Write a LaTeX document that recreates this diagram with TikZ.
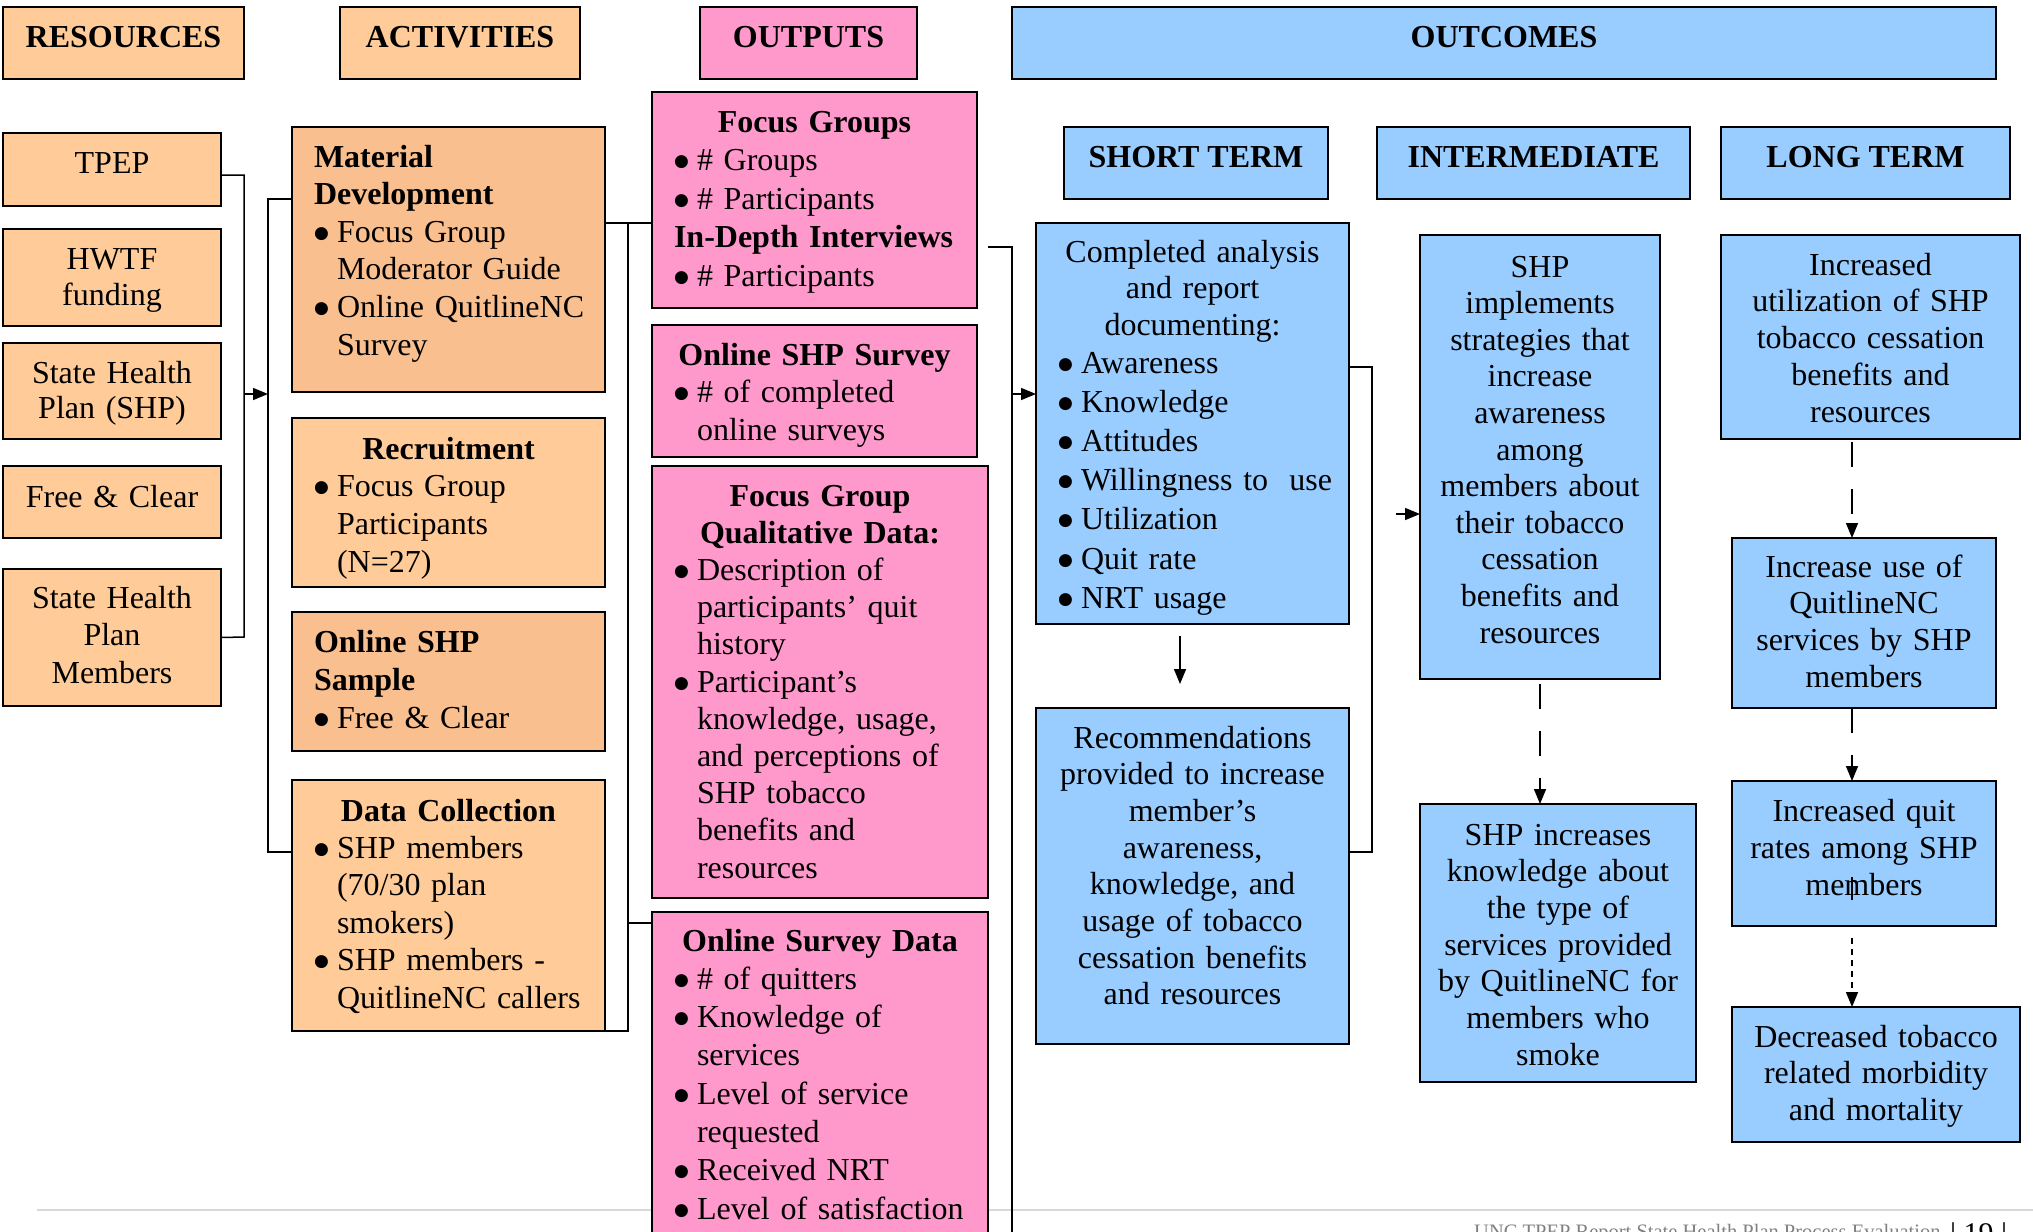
\documentclass[tikz,border=0pt]{standalone}
\usepackage{fontspec}
\setmainfont{Liberation Serif}
\newfontfamily\symfont{DejaVu Sans}
\usetikzlibrary{arrows.meta,calc}
\definecolor{lorange}{HTML}{FFCC99}
\definecolor{dorange}{HTML}{FABF8F}
\definecolor{pinkc}{HTML}{FF99CC}
\definecolor{bluec}{HTML}{99CCFF}
\definecolor{footgray}{HTML}{D9D9D9}
\definecolor{foottext}{HTML}{808080}
\newcommand\FS{\rule{0pt}{24pt}}
\newcommand\BUL{\raisebox{4pt}{\symfont\fontsize{17}{17}\selectfont ●}}
\newcommand\BL[1]{\makebox[23pt][l]{\BUL}\mbox{#1}}
\newcommand\CL[1]{\hspace*{23pt}\mbox{#1}}
\newcommand\CT[1]{\makebox[\hsize][c]{#1}}
\newcommand\fs[1]{\fontsize{32}{#1}\selectfont\parindent=0pt\parskip=0pt}
\tikzset{
  box/.style={draw=black, line width=1.6pt, anchor=north west, inner sep=0pt, outer sep=0pt},
  txt/.style={inner sep=0pt, outer sep=0pt, anchor=north west, align=left},
  ctxt/.style={inner sep=0pt, outer sep=0pt, anchor=north, align=center},
  hdr/.style={inner sep=0pt, outer sep=0pt, anchor=north, font=\fs{38}\bfseries},
  conn/.style={line width=1.5pt, draw=black},
  arr/.style={conn, -{Triangle[length=15pt,width=12pt]}},
  longdash/.style={dash pattern=on 25pt off 22pt},
  shortdash/.style={dash pattern=on 6pt off 5pt},
}
\begin{document}
\begin{tikzpicture}[x=1pt,y=-1pt]
\useasboundingbox (0,0) rectangle (2033,1231);
\clip (0,0) rectangle (2033,1231);
% footer rule
\draw[footgray, line width=2.5pt] (37,1210) -- (2033,1210);

% ---------- connector points ----------
\coordinate (r1) at (244,175);
\coordinate (r2) at (244,637);
\coordinate (rA) at (244,394);
\coordinate (b2t) at (268,199);
\coordinate (b2a) at (268,394);
\coordinate (b2b) at (268,852);
\coordinate (b3t) at (628,223);
\coordinate (b3m) at (628,923);
\coordinate (b3b) at (628,1031);
\coordinate (b4t) at (1012,247);
\coordinate (b4a) at (1012,394);
\coordinate (b4b) at (1012,1245);
\coordinate (b5t) at (1372,367);
\coordinate (b5b) at (1372,852);
\coordinate (b5a) at (1396,514);
\coordinate (q1) at (1852,877);
\coordinate (q2) at (1852,900);

% ---------- headers ----------
\node[box, fill=lorange, minimum width=241pt, minimum height=72pt] (hres) at (3,7) {};
\node[box, fill=lorange, minimum width=240pt, minimum height=72pt] (hact) at (340,7) {};
\node[box, fill=pinkc, minimum width=217pt, minimum height=72pt] (hout) at (700,7) {};
\node[box, fill=bluec, minimum width=984pt, minimum height=72pt] (hoc) at (1012,7) {};
\node[box, fill=bluec, minimum width=264pt, minimum height=72pt] (hst) at (1064,127) {};
\node[box, fill=bluec, minimum width=313pt, minimum height=72pt] (hint) at (1377,127) {};
\node[box, fill=bluec, minimum width=289pt, minimum height=72pt] (hlt) at (1721,127) {};
\node[hdr] (hres-t) at (123.5,24) {\FS RESOURCES};
\node[hdr] (hact-t) at (460,24) {\FS ACTIVITIES};
\node[hdr] (hout-t) at (808.5,24) {\FS OUTPUTS};
\node[hdr] (hoc-t) at (1504,24) {\FS OUTCOMES};
\node[hdr] (hst-t) at (1196,143) {\FS SHORT TERM};
\node[hdr] (hint-t) at (1533.5,143) {\FS INTERMEDIATE};
\node[hdr] (hlt-t) at (1865.5,143) {\FS LONG TERM};

% ---------- resources ----------
\node[box, fill=lorange, minimum width=218pt, minimum height=73pt] (tpep) at (3,133) {};
\node[box, fill=lorange, minimum width=218pt, minimum height=97pt] (hwtf) at (3,229) {};
\node[box, fill=lorange, minimum width=218pt, minimum height=96pt] (shp) at (3,343) {};
\node[box, fill=lorange, minimum width=218pt, minimum height=72pt] (fc) at (3,466) {};
\node[box, fill=lorange, minimum width=218pt, minimum height=137pt] (shpm) at (3,569) {};

\draw[conn] ([yshift=-5.5pt]tpep.east) -- (r1) -- (r2) -- (shpm.east);
\draw[arr] (rA) -- (b2a);

% ---------- activities ----------
\node[box, fill=dorange, minimum width=313pt, minimum height=265pt] (matdev) at (292,127) {};
\node[box, fill=lorange, minimum width=313pt, minimum height=169pt] (recr) at (292,418) {};
\node[box, fill=dorange, minimum width=313pt, minimum height=139pt] (osample) at (292,612) {};
\node[box, fill=lorange, minimum width=313pt, minimum height=251pt] (datacoll) at (292,780) {};

\draw[conn] ($(matdev.north west)+(0,72)$) -- (b2t) -- (b2b) -- ($(datacoll.north west)+(0,72)$);

% ---------- outputs ----------
\node[box, fill=pinkc, minimum width=325pt, minimum height=216pt] (fg) at (652,92) {};
\node[box, fill=pinkc, minimum width=325pt, minimum height=132pt] (oss) at (652,325) {};
\node[box, fill=pinkc, minimum width=336pt, minimum height=432pt] (fgq) at (652,466) {};
\node[box, fill=pinkc, minimum width=336pt, minimum height=360pt] (osd) at (652,912) {};

\draw[conn] ($(matdev.north east)+(0,96)$) -- ($(fg.north west)+(0,131)$);
\draw[conn] (datacoll.south east) -- (b3b) -- (b3t);
\draw[conn] (b3m) -- ($(osd.north west)+(0,11)$);
\draw[conn] ($(fg.north east)+(11,155)$) -- (b4t) -- (b4b);

% ---------- outcomes ----------
\node[box, fill=bluec, minimum width=313pt, minimum height=401pt] (ca) at (1036,223) {};
\node[box, fill=bluec, minimum width=313pt, minimum height=336pt] (rec) at (1036,708) {};
\node[box, fill=bluec, minimum width=240pt, minimum height=444pt] (impl) at (1420,235) {};
\node[box, fill=bluec, minimum width=276pt, minimum height=278pt] (incr) at (1420,804) {};
\node[box, fill=bluec, minimum width=299pt, minimum height=204pt] (util) at (1721,235) {};
\node[box, fill=bluec, minimum width=264pt, minimum height=170pt] (use) at (1732,538) {};
\node[box, fill=bluec, minimum width=264pt, minimum height=145pt] (quit) at (1732,781) {};
\node[box, fill=bluec, minimum width=288pt, minimum height=135pt] (dec) at (1732,1007) {};

\draw[arr] (b4a) -- ($(ca.north west)+(0,171)$);
\draw[conn] ($(ca.north east)+(0,144)$) -- (b5t) -- (b5b) -- ($(rec.north east)+(0,144)$);
\draw[arr] (b5a) -- ($(impl.north west)+(0,279)$);
\draw[arr] ($(ca.south west)+(144,12)$) -- ($(rec.north west)+(144,-24)$);
\draw[arr, longdash] ($(impl.south)+(0,5)$) -- (impl.south |- incr.north);
\draw[arr, longdash] ($(util.south west)+(131,3)$) -- ($(use.north west)+(120,0)$);
\draw[arr, longdash] ($(use.south west)+(120,0)$) -- ($(quit.north west)+(120,0)$);
\draw[arr, shortdash] ($(quit.south west)+(120,12)$) -- ($(dec.north west)+(120,0)$);

% ---------- texts ----------
\node[ctxt, text width=210pt, font=\fs{36}] (tpep-t) at (112,149) {\FS TPEP};
\node[ctxt, text width=210pt, font=\fs{36}] (hwtf-t) at (112,245) {\FS HWTF\\funding};
\node[ctxt, text width=210pt, font=\fs{35.5}] (shp-t) at (112,359) {\FS State Health\\Plan (SHP)};
\node[ctxt, text width=210pt, font=\fs{36}] (fc-t) at (112,483) {\FS Free \& Clear};
\node[ctxt, text width=210pt, font=\fs{37.5}] (shpm-t) at (112,584) {\FS State Health\\Plan\\Members};

\node[txt, text width=269pt, font=\fs{37.6}] (matdev-t) at (314,143) {\FS\textbf{Material}\\
  \textbf{Development}\\ \BL{Focus Group}\\ \CL{Moderator Guide}\\ \BL{Online QuitlineNC}\\ \CL{Survey}};
\node[txt, text width=269pt, font=\fs{37.7}] (recr-t) at (314,435) {\FS\CT{\textbf{Recruitment}}\\
  \BL{Focus Group}\\ \CL{Participants}\\ \CL{(N=27)}};
\node[txt, text width=269pt, font=\fs{38}] (osample-t) at (314,628) {\FS\textbf{Online SHP}\\
  \textbf{Sample}\\ \BL{Free \& Clear}};
\node[txt, text width=269pt, font=\fs{37.4}] (datacoll-t) at (314,797) {\FS\CT{\textbf{Data Collection}}\\
  \BL{SHP members}\\ \CL{(70/30 plan}\\ \CL{smokers)}\\ \BL{SHP members -}\\ \CL{QuitlineNC callers}};

\node[txt, text width=281pt, font=\fs{38.5}] (fg-t) at (674,108) {\FS\CT{\textbf{Focus Groups}}\\
  \BL{\# Groups}\\ \BL{\# Participants}\\ \textbf{In-Depth Interviews}\\ \BL{\# Participants}};
\node[txt, text width=281pt, font=\fs{37.5}] (oss-t) at (674,341) {\FS\CT{\textbf{Online SHP Survey}}\\
  \BL{\# of completed}\\ \CL{online surveys}};
\node[txt, text width=292pt, font=\fs{37.2}] (fgq-t) at (674,482) {\FS\CT{\textbf{Focus Group}}\\
  \CT{\textbf{Qualitative Data:}}\\ \BL{Description of}\\ \CL{participants’ quit}\\ \CL{history}\\
  \BL{Participant’s}\\ \CL{knowledge, usage,}\\ \CL{and perceptions of}\\ \CL{SHP tobacco}\\
  \CL{benefits and}\\ \CL{resources}};
\node[txt, text width=292pt, font=\fs{38.3}] (osd-t) at (674,927) {\FS\CT{\textbf{Online Survey Data}}\\
  \BL{\# of quitters}\\ \BL{Knowledge of}\\ \CL{services}\\ \BL{Level of service}\\ \CL{requested}\\
  \BL{Received NRT}\\ \BL{Level of satisfaction}};

\node[txt, text width=269pt, font=\fs{36.5}] (ca-t) at (1058,238) {\FS\CT{Completed analysis}\\
  \CT{and report}\\ \CT{documenting:}\\[1.5pt] \BL{Awareness}\\[2.7pt] \BL{Knowledge}\\[2.7pt]
  \BL{Attitudes}\\[2.7pt] \BL{Willingness to\ \ use}\\[2.7pt] \BL{Utilization}\\[2.7pt]
  \BL{Quit rate}\\[2.7pt] \BL{NRT usage}};
\node[ctxt, text width=305pt, font=\fs{36.7}] (rec-t) at (1192.5,724) {\FS Recommendations\\
  provided to increase\\member’s\\awareness,\\knowledge, and\\usage of tobacco\\cessation benefits\\and resources};
\node[ctxt, text width=234pt, font=\fs{36.6}] (impl-t) at (1540,253) {\FS SHP\\implements\\strategies that\\
  increase\\awareness\\among\\members about\\their tobacco\\cessation\\benefits and\\resources};
\node[ctxt, text width=270pt, font=\fs{36.7}] (incr-t) at (1558,821) {\FS SHP increases\\knowledge about\\
  the type of\\services provided\\by QuitlineNC for\\members who\\smoke};
\node[ctxt, text width=292pt, font=\fs{36.75}] (util-t) at (1870.5,251) {\FS Increased\\utilization of SHP\\
  tobacco cessation\\benefits and\\resources};
\node[ctxt, text width=258pt, font=\fs{36.7}] (use-t) at (1864,553) {\FS Increase use of\\QuitlineNC\\
  services by SHP\\members};
\node[ctxt, text width=258pt, font=\fs{37}] (quit-t) at (1864,797) {\FS Increased quit\\rates among SHP\\members};
\node[ctxt, text width=282pt, font=\fs{36.5}] (dec-t) at (1876,1023) {\FS Decreased tobacco\\related morbidity\\and mortality};

\draw[line width=1.2pt] (q1) -- (q2);

% footer
\node[anchor=base west, inner sep=0pt, font=\fontsize{20.5}{24}\selectfont, text=foottext] (foot) at (1474,1238)
  {UNC TPEP Report State Health Plan Process Evaluation};
\node[anchor=base west, inner sep=0pt, font=\fontsize{30}{32}\selectfont] (pageno) at (1950,1243) {| 19 |};
\end{tikzpicture}
\end{document}
